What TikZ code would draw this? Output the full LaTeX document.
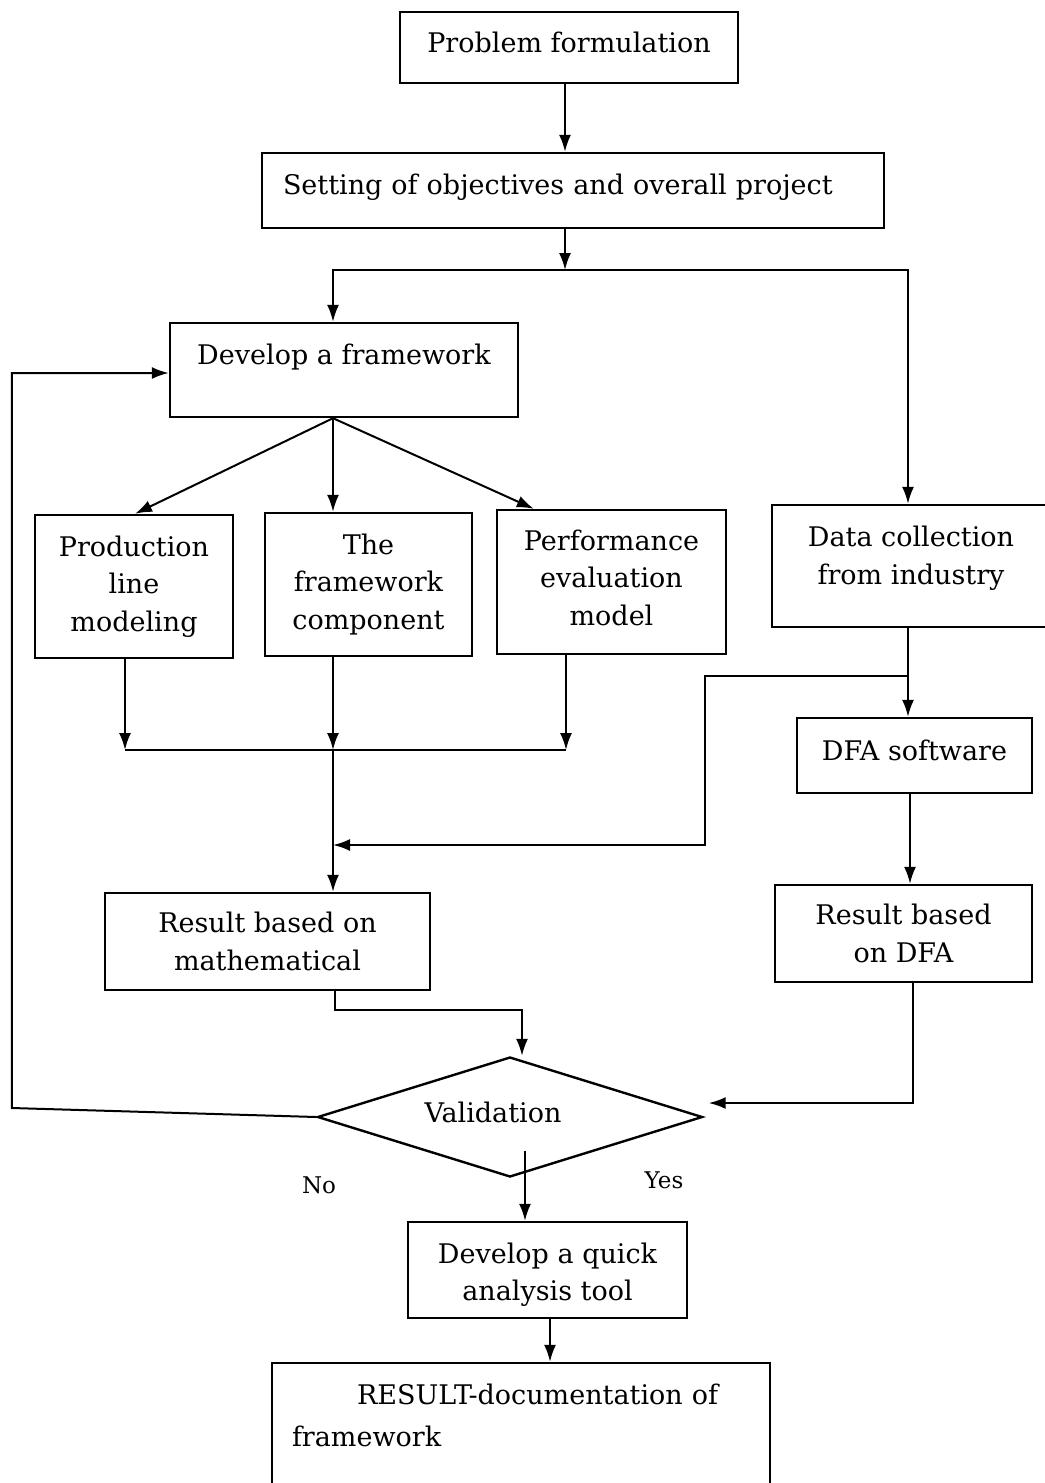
\documentclass[tikz,border=0pt]{standalone}
\usepackage{fontspec}
\setmainfont{DejaVu Serif}
\usetikzlibrary{arrows.meta,calc,shapes.geometric}
\tikzset{
  stagebox/.style={draw=black,line width=1.2pt,inner sep=2pt,align=center,
    font=\fontsize{13.5}{18.75}\selectfont},
  decision/.style={diamond,aspect=3.2,draw=black,line width=1.2pt,inner sep=0pt,
    minimum width=192.5pt,minimum height=60pt,font=\fontsize{13.5}{18.75}\selectfont},
  flow/.style={-{Latex[length=8.5pt,width=6pt]},line width=1pt},
  plainline/.style={line width=1pt},
  answer/.style={font=\fontsize{11.5}{14}\selectfont}
}
% move the text inside a box without changing the box size
\newcommand{\shifted}[2]{\raisebox{#1}[\height][\depth]{#2}}
\newcommand{\lines}[1]{\begin{tabular}{@{}c@{}}#1\end{tabular}}

\begin{document}
\begin{tikzpicture}[x=0.5pt,y=-0.5pt]
  \useasboundingbox (0,0) rectangle (1044,1483);

  \node[stagebox,minimum width=169pt,minimum height=35.5pt] (prob) at (569,47.5) {\shifted{2.5pt}{Problem formulation}};
  \node[stagebox,minimum width=311pt,minimum height=37.5pt,text width=290pt,inner xsep=0pt,align=left] (set) at (573,190.5)
    {\shifted{1.75pt}{Setting of objectives and overall project}};
  \node[stagebox,minimum width=174pt,minimum height=47pt] (dev) at (344,370) {\shifted{6.25pt}{Develop a framework}};
  \node[stagebox,minimum width=99pt,minimum height=71.5pt] (prod) at (134,586.5) {Production\\line\\modeling};
  \node[stagebox,minimum width=103.5pt,minimum height=71.5pt] (fwc) at (368.5,584.5) {The\\framework\\component};
  \node[stagebox,minimum width=114.5pt,minimum height=72pt] (perf) at (611.5,582) {\shifted{1pt}{\lines{Performance\\evaluation\\model}}};
  \node[stagebox,minimum width=139pt,minimum height=61pt] (data) at (911,566) {\shifted{4pt}{\lines{Data collection\\from industry}}};
  \node[stagebox,minimum width=117.5pt,minimum height=37.5pt] (dfa) at (914.5,755.5) {\shifted{2.75pt}{DFA software}};
  \node[stagebox,minimum width=128.5pt,minimum height=48.5pt] (resdfa) at (903.5,933.5) {Result based\\on DFA};
  \node[stagebox,minimum width=162.5pt,minimum height=48.5pt] (resmath) at (267.5,941.5) {Result based on\\mathematical};
  \node[decision] (valid) at (510,1117) {\shifted{2.5pt}{Validation\hspace*{17pt}}};
  \node[stagebox,minimum width=139.5pt,minimum height=48pt] (quick) at (547.5,1270) {\shifted{-2.25pt}{\lines{Develop a quick\\analysis tool}}};
  \node[stagebox,minimum width=249pt,minimum height=63.5pt,text width=229pt,inner xsep=10pt,align=left] (res) at (521,1426.5)
    {\shifted{4.5pt}{\begin{tabular}{@{}l@{}}\hspace*{32.5pt}RESULT-documentation of\\[2.25pt]framework\end{tabular}}};

  \node[answer] (no) at (319,1185) {No};
  \node[answer] (yes) at (664,1180) {Yes};

  % junction points
  \coordinate (split) at (565,270);
  \coordinate (mrg) at (333,750);
  \coordinate (join) at (333,845);
  \coordinate (fan) at ($(dev.south)+(-11,0)$);
  \coordinate (tap) at ($(data.south)+(-3,48)$);

  \draw[flow] (prob.south -| split) -- (set.north -| split);
  \draw[flow] (set.south -| split) -- (split);
  \draw[flow] (split) -| ($(dev.north)+(-11,0)$);
  \draw[flow] (split) -| ($(data.north)+(-3,0)$);

  \draw[flow] (fan) -- ($(prod.north)+(1,0)$);
  \draw[flow] (fan) -- (fan |- fwc.north);
  \draw[flow] (fan) -- ($(perf.north west)+(38,0)$);

  \draw[flow] ($(prod.south)+(-9,0)$) coordinate (pout) -- (pout |- mrg);
  \draw[flow] (fan |- fwc.south) -- (mrg);
  \draw[flow] ($(perf.south)+(-45.5,0)$) coordinate (eout) -- (eout |- mrg);
  \draw[plainline] (pout |- mrg) -- (eout |- mrg);
  \draw[flow] (mrg) -- (mrg |- resmath.north);

  \draw[flow] (tap |- data.south) -- (tap |- dfa.north);
  \draw[flow] (tap) -- ++(-203,0) |- (join);
  \draw[flow] ($(dfa.south)+(-4.5,0)$) coordinate (dout) -- (dout |- resdfa.north);
  \draw[flow] ($(resdfa.south)+(9.5,0)$) |- ($(valid.east)+(5,-14)$);
  \draw[flow] ($(resmath.south)+(67.5,0)$) -- ++(0,19) -| ($(valid.north)+(12,0)$);

  \draw[flow] ($(valid.south)+(15,-27)$) -- ($(quick.north)+(-22.5,0)$);
  \draw[flow] ($(quick.south)+(2.5,0)$) coordinate (qout) -- (qout |- res.north);
  \draw[flow] (valid.west) -- ++(-304.5,-9) |- ($(dev.west)+(0,3)$);
\end{tikzpicture}
\end{document}
